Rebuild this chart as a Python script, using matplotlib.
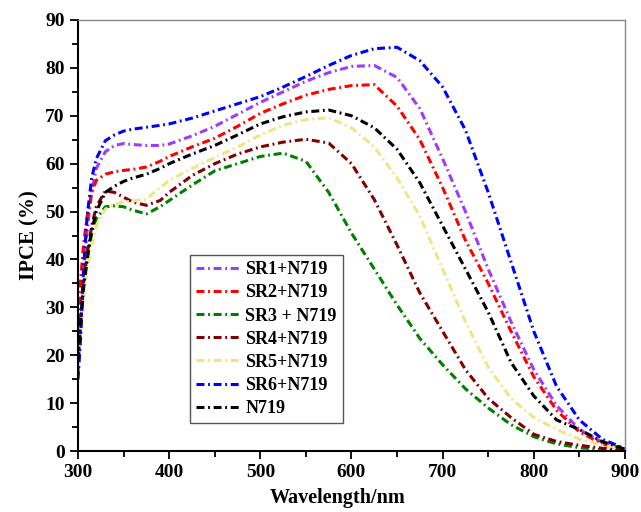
import numpy as np
import matplotlib
matplotlib.use('Agg')
import matplotlib.pyplot as plt
from matplotlib.ticker import MultipleLocator

plt.rcParams['font.family'] = ['Liberation Serif', 'DejaVu Serif']
plt.rcParams['font.weight'] = 'bold'

# wavelength grid (nm)
wl = [300, 303, 306, 310, 315, 320, 330, 340, 350, 360, 375, 390, 400, 425, 450, 475, 500,
      525, 550, 575, 600, 625, 650, 675, 700, 725, 750, 775, 800, 825, 850, 875, 900]

sr1 = [16, 26, 37, 46, 54, 59, 62.5, 63.8, 64.2, 64, 63.8, 63.8, 64.1, 65.8, 67.8, 70.3, 72.8,
       75, 77.2, 79, 80.3, 80.5, 78, 71.5, 61, 50, 38, 27, 17, 9.5, 4.5, 1.8, 0.4]
sr2 = [27, 36, 43, 49, 54, 56.5, 57.8, 58.3, 58.6, 58.8, 59.3, 60.5, 61.5, 63.5, 65.3, 67.8, 70.5,
       72.5, 74.3, 75.5, 76.3, 76.5, 72, 65, 55, 44, 35, 25, 15.5, 8.5, 4, 1.5, 0.3]
sr3 = [19, 27, 34, 40, 45.5, 48.5, 51, 51.2, 51, 50.3, 49.5, 51, 52.3, 55.5, 58.5, 60, 61.5,
       62.2, 60.5, 54, 45.5, 38, 30.5, 23.5, 18, 13, 9, 5.5, 3, 1.5, 0.7, 0.3, 0.1]
sr4 = [20, 28, 35, 41, 47, 51, 54.3, 54, 53, 52, 51.3, 52.3, 54, 57.5, 60, 62, 63.5,
       64.5, 65.1, 64.3, 60, 52.5, 43, 33, 25, 17, 11, 7, 3.5, 2, 1.2, 0.6, 0.2]
sr5 = [18, 25, 32, 38, 43, 47, 50.5, 51.5, 52, 52.2, 52.6, 55, 56.5, 59, 61.3, 63.5, 66,
       68, 69.2, 69.6, 67.5, 63.5, 57, 49, 38, 27, 17.5, 11, 7, 4.5, 2.5, 1.2, 0.6]
sr6 = [15, 24, 38, 49, 57, 61, 64.8, 66, 66.8, 67.2, 67.6, 68, 68.3, 69.5, 71, 72.5, 74,
       76, 78.2, 80.5, 82.6, 84, 84.3, 81.5, 76, 67, 54, 39.5, 25, 13.5, 6.5, 2.5, 0.5]
n719 = [19, 27, 34, 40, 46, 50, 54, 55.3, 56.3, 57, 57.8, 59, 60, 62, 63.8, 66, 68.3,
        69.8, 70.8, 71.2, 70, 67.5, 63, 56, 47, 38, 29, 18.5, 11.5, 6.5, 4.5, 2, 0.4]

series = [
    (sr1, 'SR1+N719', '#9B3CFF'),
    (sr2, 'SR2+N719', '#FF0000'),
    (sr3, 'SR3 + N719', '#008000'),
    (sr4, 'SR4+N719', '#800000'),
    (sr5, 'SR5+N719', '#EEE685'),
    (sr6, 'SR6+N719', '#0000FF'),
    (n719, 'N719', '#000000'),
]

fig, ax = plt.subplots(figsize=(6.41, 5.12), dpi=100)
fig.subplots_adjust(left=0.1217, right=0.975, bottom=0.119, top=0.961)

for y, lab, c in series:
    ax.plot(wl, y, color=c, lw=2.2, linestyle=(0, (2.6, 1.2, 0.6, 1.2)), label=lab)

ax.set_xlim(300, 900)
ax.set_ylim(0, 90)
ax.xaxis.set_major_locator(MultipleLocator(100))
ax.xaxis.set_minor_locator(MultipleLocator(50))
ax.yaxis.set_major_locator(MultipleLocator(10))
ax.yaxis.set_minor_locator(MultipleLocator(5))
ax.tick_params(which='major', direction='out', length=6, width=1.3, labelsize=14)
ax.tick_params(which='minor', direction='out', length=4, width=1.3)

for s in ['left', 'bottom']:
    ax.spines[s].set_linewidth(1.5)
for s in ['top', 'right']:
    ax.spines[s].set_color('#888888')
    ax.spines[s].set_linewidth(1.0)

ax.set_xlabel('Wavelength/nm', fontsize=14.5, fontweight='bold')
ax.set_ylabel('IPCE (%)', fontsize=15, fontweight='bold')
ax.xaxis.set_label_coords(0.474, -0.086)

leg = ax.legend(loc='upper left', bbox_to_anchor=(0.205, 0.455), fontsize=13,
                frameon=True, fancybox=False, edgecolor='#555555', framealpha=1,
                handlelength=2.4, labelspacing=0.34, borderpad=0.35, handletextpad=0.3,
                borderaxespad=0)
leg.get_frame().set_linewidth(1.0)

fig.savefig('out.png', dpi=100)
